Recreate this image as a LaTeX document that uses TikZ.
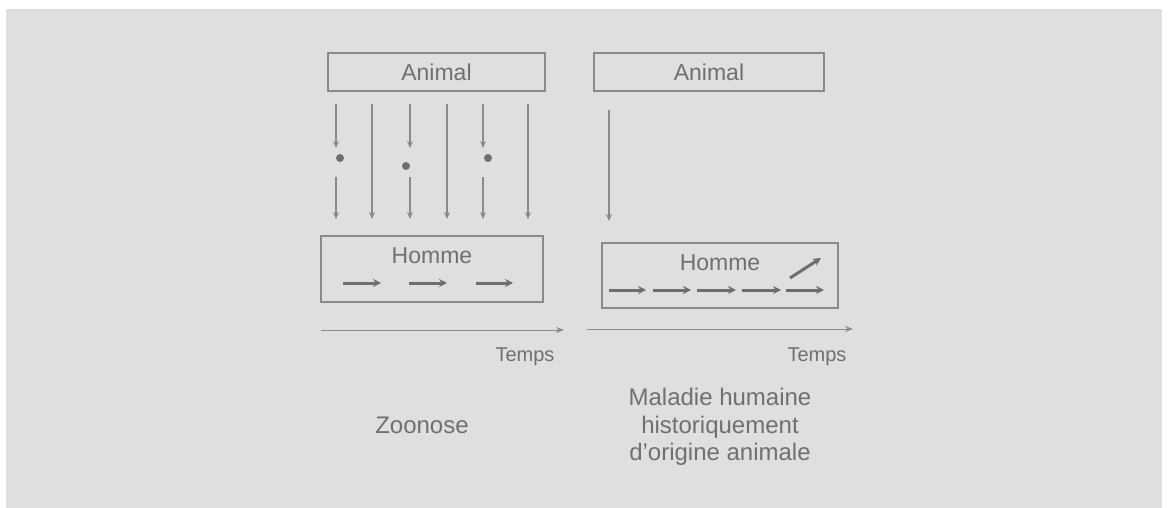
\documentclass[tikz,border=0pt]{standalone}
\usepackage{fontspec}
\setmainfont{Liberation Sans}
\usetikzlibrary{arrows.meta}
\definecolor{bg}{HTML}{DFDFDF}
\definecolor{ln}{HTML}{8A8A8A}
\definecolor{tx}{HTML}{707070}
\definecolor{dk}{HTML}{6E6E6E}
\tikzset{
  box/.style={draw=ln, line width=1.1pt, minimum width=#1, inner sep=0pt},
  lbl/.style={text=tx, font=\fontsize{23}{27}\selectfont, inner sep=0pt},
  tlbl/.style={text=tx, font=\fontsize{20}{24}\selectfont, inner sep=0pt},
  blbl/.style={text=tx, font=\fontsize{24}{27.5}\selectfont, inner sep=0pt, align=center},
  thinarr/.style={draw=ln, line width=1.1pt, -{Stealth[length=7pt,width=6pt]}},
  thickarr/.style={draw=dk, line width=3pt, -{Stealth[length=8pt,width=8pt]}},
  axisarr/.style={draw=ln, line width=1pt, -{Stealth[length=8pt,width=6pt]}},
  dotnode/.style={circle, fill=dk, minimum size=8pt, inner sep=0pt},
}
\begin{document}
\begin{tikzpicture}[x=1pt,y=-1pt]
\useasboundingbox (0,0) rectangle (1168,508);
\fill[white] (0,0) rectangle (1168,508);
\fill[bg] (6,9) rectangle (1162,508);

% ---------- left panel ----------
\node[box=217pt, minimum height=38pt] (aL) at (436.5,72) {};
\node[lbl] (aLt) at (436.5,72) {Animal};
\node[box=222pt, minimum height=66pt] (hL) at (432,269) {};
\node[lbl] (hLt) at (432,256) {Homme};

% long arrows
\foreach \x [count=\i] in {372,447,528}{
  \coordinate (lt\i) at (\x,104);
  \coordinate (lb\i) at (\x,219);
  \draw[thinarr] (lt\i) -- (lb\i);
}
% interrupted arrows with dots
\node[dotnode] (d1) at (340,158) {};
\node[dotnode] (d2) at (406,166) {};
\node[dotnode] (d3) at (488,158) {};
\foreach \x [count=\i] in {336,410,483}{
  \coordinate (st\i) at (\x,104);
  \coordinate (sm\i) at (\x,148);
  \coordinate (sn\i) at (\x,177);
  \coordinate (sb\i) at (\x,219);
  \draw[thinarr] (st\i) -- (sm\i);
  \draw[thinarr] (sn\i) -- (sb\i);
}
% thick arrows inside Homme
\foreach \a/\b [count=\i] in {343/381,409/447,476/513}{
  \coordinate (ha\i) at (\a,283);
  \coordinate (hb\i) at (\b,283);
  \draw[thickarr] (ha\i) -- (hb\i);
}
% time axis
\coordinate (tL0) at (321,330);
\coordinate (tL1) at (564,330);
\draw[axisarr] (tL0) -- (tL1);
\node[tlbl] (tLt) at (525,357) {Temps};
\node[blbl] (zoo) at (422,425) {Zoonose};

% ---------- right panel ----------
\node[box=230pt, minimum height=38pt] (aR) at (709,72) {};
\node[lbl] (aRt) at (709,72) {Animal};
\node[box=236pt, minimum height=65pt] (hR) at (720,275.5) {};
\node[lbl] (hRt) at (720,263) {Homme};
\coordinate (rt) at (609,110);
\coordinate (rb) at (609,221);
\draw[thinarr] (rt) -- (rb);
\foreach \a/\b [count=\i] in {609/646,653/691,697/736,742/781,786/824}{
  \coordinate (ra\i) at (\a,290);
  \coordinate (rz\i) at (\b,290);
  \draw[thickarr] (ra\i) -- (rz\i);
}
\coordinate (dg0) at (790,278);
\coordinate (dg1) at (821,258);
\draw[thickarr] (dg0) -- (dg1);
\coordinate (tR0) at (587,329);
\coordinate (tR1) at (853,329);
\draw[axisarr] (tR0) -- (tR1);
\node[tlbl] (tRt) at (817,357) {Temps};
\node[blbl] (mal) at (720,427) {Maladie humaine\\historiquement\\d’origine animale};
\end{tikzpicture}
\end{document}
